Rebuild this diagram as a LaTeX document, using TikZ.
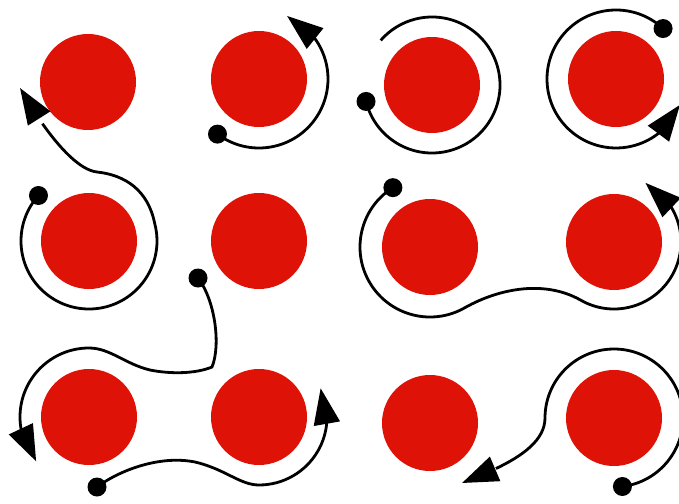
\documentclass[tikz,border=0pt]{standalone}
\usetikzlibrary{arrows.meta,bending,calc}
\definecolor{discred}{RGB}{222,18,6}
\tikzset{
  disc/.style={circle, fill=discred, minimum size=96pt, inner sep=0pt},
  blob/.style={circle, fill=black, minimum size=19pt, inner sep=0pt},
  trail/.style={line width=2.8pt, black},
  head/.style={-{Triangle[length=36pt,width=26pt,flex]}},
}
\begin{document}
\begin{tikzpicture}[x=1pt,y=-1pt]
\useasboundingbox[fill=white] (0,0) rectangle (679,503);
% discs
\node[disc] (c1) at (88,82) {};
\node[disc] (c2) at (259,79) {};
\node[disc] (c3) at (432,85) {};
\node[disc] (c4) at (616,79) {};
\node[disc] (c5) at (89,241) {};
\node[disc] (c6) at (259,241) {};
\node[disc] (c7) at (430,247) {};
\node[disc] (c8) at (614,242) {};
\node[disc] (c9) at (89,417) {};
\node[disc] (c10) at (259,417) {};
\node[disc] (c11) at (430,423) {};
\node[disc] (c12) at (614,418) {};
% start dots
\node[blob] (d5) at ($(c5)+(222:68)$) {};
\node[blob] (d2) at ($(c2)+(127:69)$) {};
\node[blob] (d3) at ($(c3)+(166:68)$) {};
\node[blob] (d4) at ($(c4)+(-47:69)$) {};
\node[blob] (d7) at ($(c7)+(238:70)$) {};
\node[blob] (d6) at (198,278) {};
\node[blob] (d9) at (97,487) {};
\node[blob] (d12) at ($(c12)+(83:69)$) {};
% free ends
\coordinate (a1) at (20,88);
\coordinate (a11) at (462,483);
% trails
\draw[trail,head] (d5.center) arc[start angle=222, end angle=-15, radius=68]
  .. controls (148,190) and (125,175) .. (97,172)
  .. controls (70,169) and (35,115) .. (a1);
\draw[trail,head] (d2.center) arc[start angle=127, end angle=-66, radius=69];
\draw[trail] (d3.center) arc[start angle=166, end angle=-139, radius=68];
\draw[trail,head] (d4.center) arc[start angle=-47, end angle=-338, radius=69];
\draw[trail,head] (d7.center) arc[start angle=238, end angle=60, radius=70]
  .. controls (500,288) and (545,280) .. ($(c8)+(120:67)$)
  arc[start angle=120, end angle=-62, radius=67];
\draw[trail,head] (d6.center) .. controls (215,300) and (221,345) .. (212,367)
  .. controls (195,374) and (170,374) .. (150,370)
  .. controls (125,364) and (110,348) .. ($(c9)+(-90:69)$)
  arc[start angle=-90, end angle=-220, radius=69];
\draw[trail,head] (d9.center) .. controls (120,470) and (160,455) .. (195,462)
  .. controls (225,469) and (240,485) .. ($(c10)+(90:68)$)
  arc[start angle=90, end angle=-25, radius=68];
\draw[trail,head] (d12.center) arc[start angle=83, end angle=-180, radius=69]
  .. controls (545,450) and (497,469) .. (a11);
\end{tikzpicture}
\end{document}
